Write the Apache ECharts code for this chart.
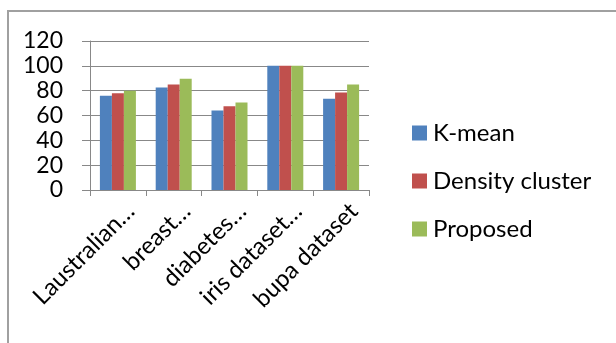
<!DOCTYPE html>
<html><head><meta charset="utf-8">
<script src="https://cdn.jsdelivr.net/npm/echarts@6/dist/echarts.min.js"></script>
<style>html,body{margin:0;padding:0;background:#fff}#c{width:616px;height:343px}</style>
</head><body><div id="c"></div>
<script>
const categories = ['Laustralian…', 'breast…', 'diabetes…', 'iris dataset…', 'bupa dataset'];
const kmean = [76, 82.5, 64, 100, 73.5];
const density = [78, 85, 67.5, 100, 78.5];
const proposed = [80, 89.5, 70.5, 100, 85];
const yTicks = { min: 0, max: 120, interval: 20 };

const FONT = 'Lato';
const chart = echarts.init(document.getElementById('c'), null, { renderer: 'canvas' });
const mk = (name, data, color) => ({
  name, type: 'bar', data, barWidth: 12, barGap: '0%',
  itemStyle: { color }
});
chart.setOption({
  animation: false,
  textStyle: { fontFamily: FONT },
  graphic: [
    { type: 'polyline', shape: { points: [[8, 343], [8, 11], [616, 11]] }, style: { stroke: '#a0a0a0', lineWidth: 2, fill: null } }
  ],
  grid: { left: 90, right: 247, top: 41, bottom: 153, containLabel: false },
  legend: {
    orient: 'vertical', left: 412, top: 121, padding: 0,
    itemWidth: 15, itemHeight: 15, itemGap: 24, icon: 'rect',
    textStyle: { fontFamily: FONT, fontSize: 24, color: '#000', lineHeight: 24, padding: [0, 0, 0, 1] },
    data: ['K-mean', 'Density cluster', 'Proposed']
  },
  xAxis: {
    type: 'category', data: categories,
    axisLine: { lineStyle: { color: '#888', width: 1 } },
    axisTick: { show: true, length: 6, alignWithLabel: false, lineStyle: { color: '#888' } },
    axisLabel: { rotate: 45, interval: 0, margin: 30, fontSize: 24, color: '#000', fontFamily: FONT, padding: [0, -18, 0, 0] }
  },
  yAxis: {
    type: 'value', min: yTicks.min, max: yTicks.max, interval: yTicks.interval,
    axisLine: { show: true, lineStyle: { color: '#888', width: 1 } },
    axisTick: { show: true, length: 8, lineStyle: { color: '#888' } },
    splitLine: { show: true, lineStyle: { color: '#888', width: 1 } },
    axisLabel: { margin: 27, fontSize: 23, color: '#000', fontFamily: FONT }
  },
  series: [
    mk('K-mean', kmean, '#4F81BD'),
    mk('Density cluster', density, '#C0504D'),
    mk('Proposed', proposed, '#9BBB59')
  ]
});
</script></body></html>
